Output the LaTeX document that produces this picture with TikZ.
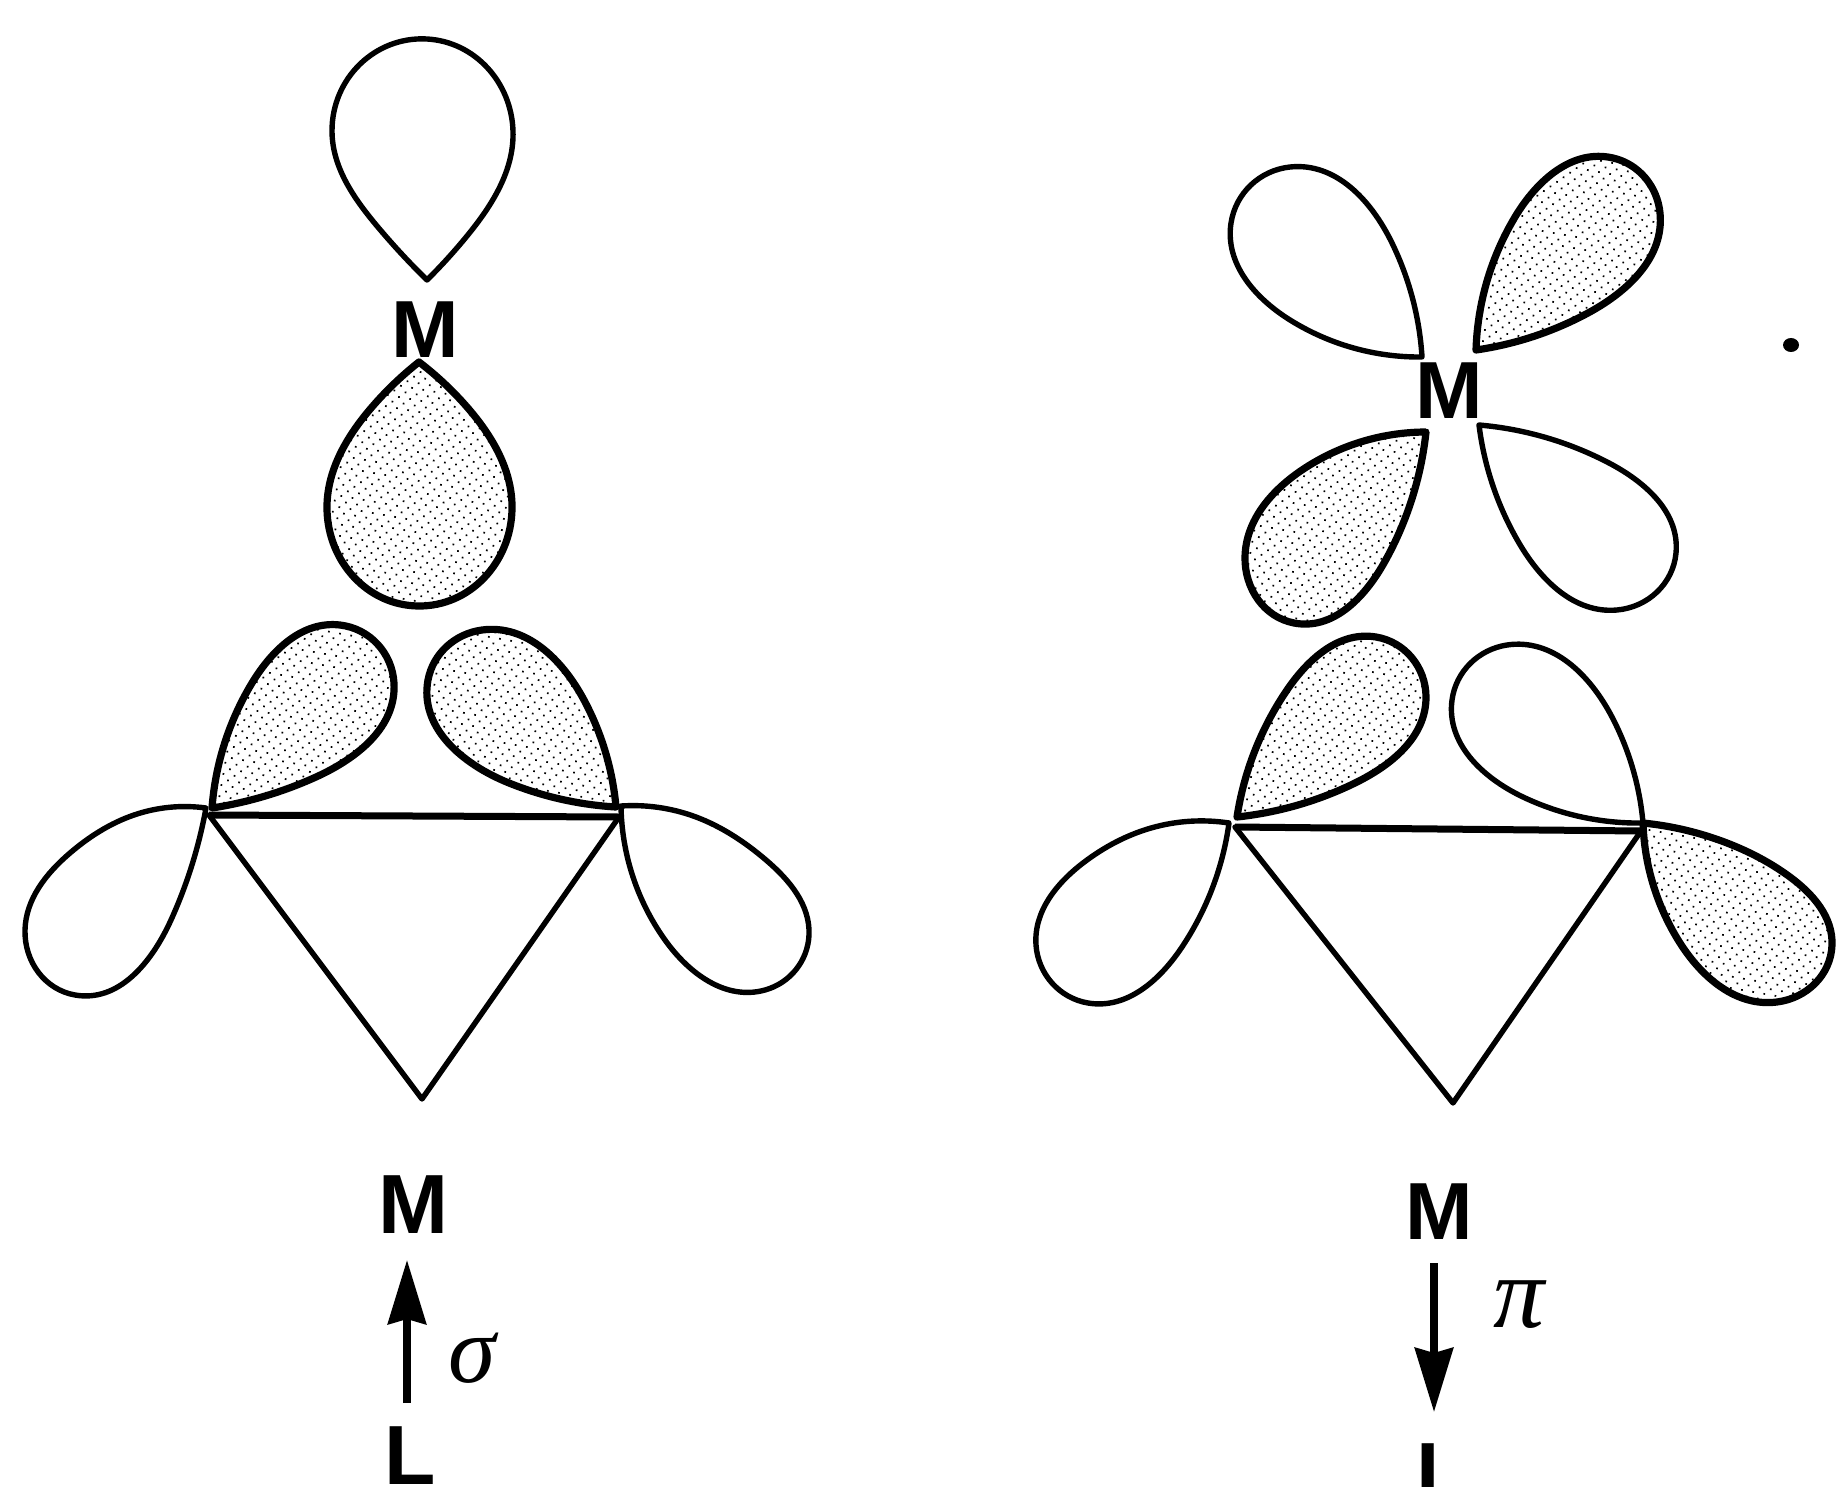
\documentclass[tikz,border=0pt]{standalone}
\usepackage{fontspec}
\setmainfont{Liberation Sans}
\newfontfamily\greekfont{Liberation Serif}
\usetikzlibrary{arrows.meta,patterns.meta,hobby}
\tikzset{
  lobe/.style={draw=black,line width=5.4pt,line join=round},
  shaded lobe/.style={draw=black,line width=7.2pt,line join=round,
    pattern={Dots[radius=1.2pt,distance=8pt,angle=35]},pattern color=black},
  bond/.style={draw=black,line width=5.4pt,line join=round,line cap=round},
  base bond/.style={draw=black,line width=7pt},
  atom/.style={inner sep=0pt,outer sep=0pt,font=\bfseries},
  greek/.style={inner sep=0pt,outer sep=0pt},
  flow/.style={draw=black,line width=7.5pt,-{Stealth[length=64pt,width=38pt,inset=5pt]}},
}
\newcommand{\lobepath}[2]{\path[#1,use Hobby shortcut] #2 -- cycle;}
\begin{document}
\begin{tikzpicture}[x=1pt,y=-1pt]
\useasboundingbox (0,0) rectangle (1841,1487);
\clip (0,0) rectangle (1841,1487);
% left figure: metal lobes
\lobepath{lobe}{(427,280)..(467,236)..(513,131)..(427,39)..(332,131)..(377,226)..(427,280)}
\lobepath{shaded lobe}{(419,362)..(467,407)..(512,510)..(418,606)..(327,510)..(372,407)..(419,362)}
% left figure: ligand lobes
\lobepath{shaded lobe}{(212,808)..(252,683)..(340,625)..(394,683)..(316,777)..(212,808)}
\lobepath{shaded lobe}{(616,807)..(584,700)..(482,630)..(428,680)..(509,783)..(616,807)}
\lobepath{lobe}{(206,808)..(134,815)..(70,853)..(25,930)..(75,995)..(171,920)..(206,808)}
\lobepath{lobe}{(621,806)..(696,817)..(766,860)..(809,935)..(765,990)..(665,940)..(621,806)}
\coordinate (a1) at (209,815);
\coordinate (b1) at (619,817);
\coordinate (c1) at (422,1099);
\draw[base bond] (a1) -- (b1);
\draw[bond] (a1) -- (c1) -- (b1);
% right figure: metal lobes
\lobepath{lobe}{(1422,357)..(1290,320)..(1231,223)..(1290,167)..(1392,243)..(1422,357)}
\lobepath{shaded lobe}{(1476,350)..(1515,217)..(1613,158)..(1660,213)..(1588,313)..(1476,350)}
\lobepath{shaded lobe}{(1426,432)..(1302,470)..(1245,557)..(1294,623)..(1384,563)..(1426,432)}
\lobepath{lobe}{(1479,425)..(1609,463)..(1676,553)..(1617,610)..(1519,543)..(1479,425)}
% right figure: ligand lobes
\lobepath{shaded lobe}{(1237,817)..(1287,690)..(1376,637)..(1426,697)..(1355,783)..(1237,817)}
\lobepath{lobe}{(1643,823)..(1612,717)..(1507,645)..(1452,700)..(1523,797)..(1643,823)}
\lobepath{lobe}{(1229,823)..(1151,828)..(1083,863)..(1036,945)..(1088,1003)..(1182,947)..(1229,823)}
\lobepath{shaded lobe}{(1643,823)..(1727,843)..(1790,877)..(1832,945)..(1777,1002)..(1680,943)..(1643,823)}
\coordinate (a2) at (1235,827);
\coordinate (b2) at (1641,831);
\coordinate (c2) at (1453,1103);
\draw[base bond] (a2) -- (b2);
\draw[bond] (a2) -- (c2) -- (b2);
% speck
\fill[black] (1791,345) ellipse (8pt and 7pt);
% labels
\node[atom] (m1) at (425,330) {\fontsize{81}{81}\selectfont M};
\node[atom] (m2) at (1449,391) {\fontsize{81}{81}\selectfont M};
\node[atom] (m3) at (413,1205) {\fontsize{84}{84}\selectfont M};
\node[atom] (m4) at (1439,1212) {\fontsize{81}{81}\selectfont M};
\node[atom] (l1) at (410,1456) {\fontsize{84}{84}\selectfont L};
\node[atom] (l2) at (1442,1473) {\fontsize{84}{84}\selectfont L};
\node[greek] (sigma) at (472,1358) {\greekfont\itshape\fontsize{96}{96}\selectfont σ};
\node[greek] (pi) at (1519,1305) {\greekfont\itshape\fontsize{102}{102}\selectfont π};
% arrows
\coordinate (s1) at (407,1403);
\coordinate (t1) at (407,1260);
\coordinate (s2) at (1434,1263);
\coordinate (t2) at (1434,1412);
\draw[flow] (s1) -- (t1);
\draw[flow] (s2) -- (t2);
\end{tikzpicture}
\end{document}
